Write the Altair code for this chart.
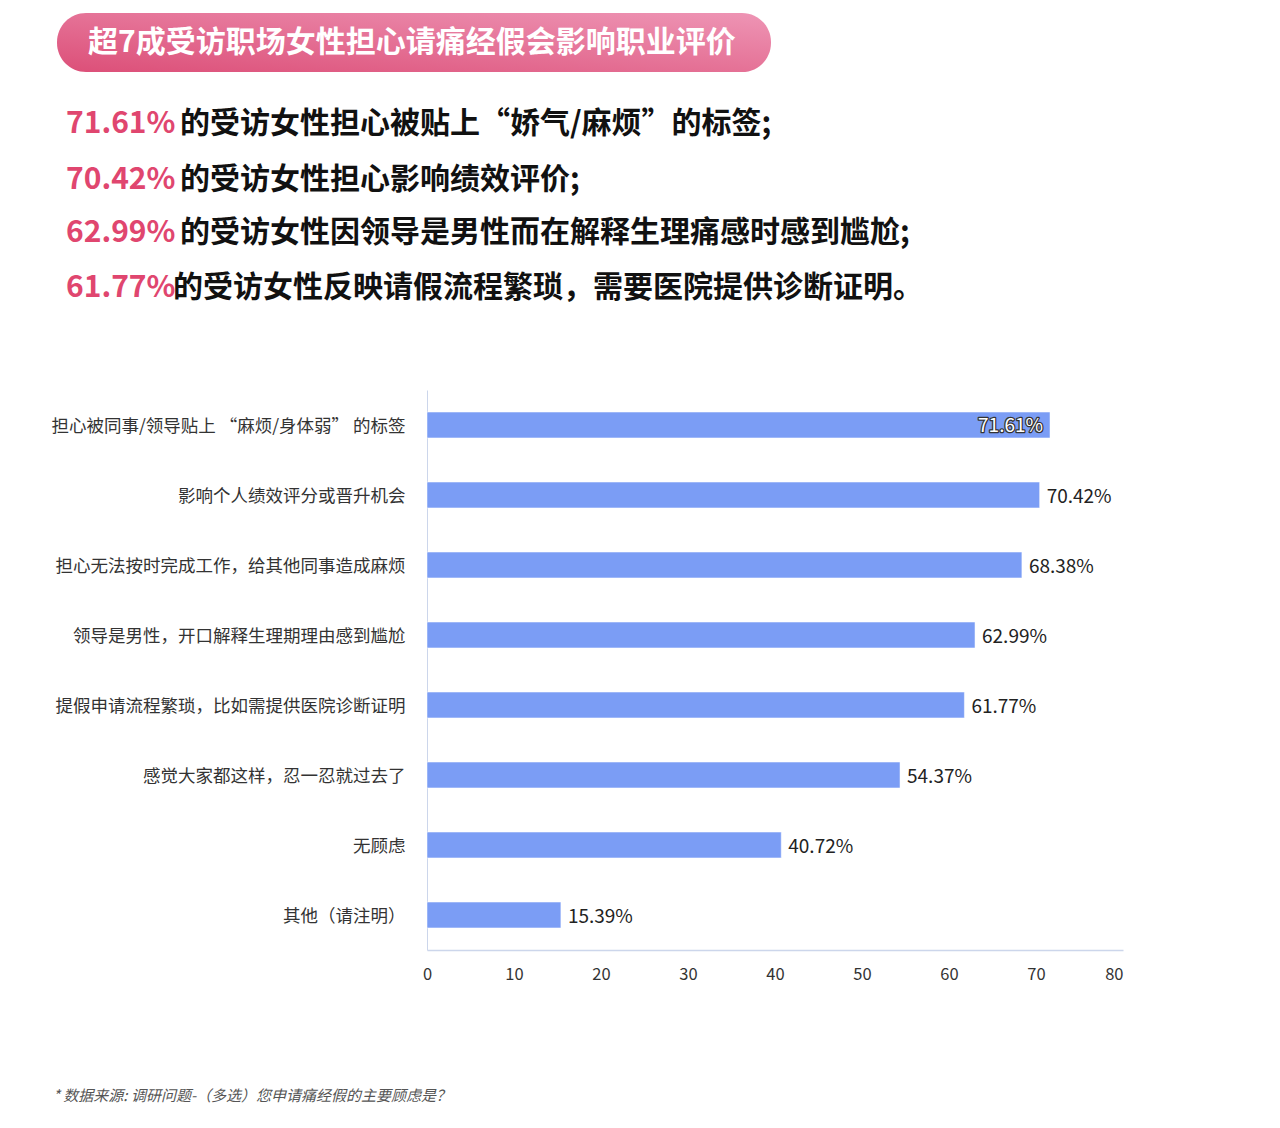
import altair as alt
import pandas as pd

# ---------------- data ----------------
header_text = "超7成受访职场女性担心请痛经假会影响职业评价"
summary_pcts = ["71.61%", "70.42%", "62.99%", "61.77%"]
summary_texts = [
    "的受访女性担心被贴上“娇气/麻烦”的标签;",
    "的受访女性担心影响绩效评价;",
    "的受访女性因领导是男性而在解释生理痛感时感到尴尬;",
    "的受访女性反映请假流程繁琐，需要医院提供诊断证明。",
]
categories = [
    "担心被同事/领导贴上 “麻烦/身体弱” 的标签",
    "影响个人绩效评分或晋升机会",
    "担心无法按时完成工作，给其他同事造成麻烦",
    "领导是男性，开口解释生理期理由感到尴尬",
    "提假申请流程繁琐，比如需提供医院诊断证明",
    "感觉大家都这样，忍一忍就过去了",
    "无顾虑",
    "其他（请注明）",
]
values = [71.61, 70.42, 68.38, 62.99, 61.77, 54.37, 40.72, 15.39]
x_ticks = [0, 10, 20, 30, 40, 50, 60, 70, 80]
footnote = "* 数据来源:  调研问题-（多选）您申请痛经假的主要顾虑是？"

df = pd.DataFrame({"cat": categories, "val": values})
df["label"] = [f"{v:.2f}%" for v in values]
df["inside"] = [i == 0 for i in range(len(values))]

FONT = "Noto Sans CJK SC"
BAR = "#7b9df5"
AXIS = "#ccd6eb"

y_enc = alt.Y(
    "cat:N",
    sort=categories,
    title=None,
    scale=alt.Scale(paddingInner=0.63, paddingOuter=0.315),
    axis=alt.Axis(
        labelFontSize=17.5, labelColor="#333333", labelFont=FONT, labelPadding=22,
        labelOffset=2, ticks=False, domainColor=AXIS, domainWidth=1, labelLimit=420,
    ),
)
x_enc = alt.X(
    "val:Q",
    title=None,
    scale=alt.Scale(domain=[0, 80], nice=False),
    axis=alt.Axis(
        values=x_ticks, grid=False, ticks=False, labelFontSize=16.5,
        labelColor="#333333", labelFont=FONT, labelPadding=16,
        domainColor=AXIS, domainWidth=1.5,
        labelAlign=alt.expr("datum.value == 80 ? 'right' : 'center'"),
    ),
)

base = alt.Chart(df)
bars = base.mark_bar(color=BAR, stroke="#ffffff", strokeWidth=0.5).encode(x=x_enc, y=y_enc)

outside = base.transform_filter("!datum.inside").mark_text(
    align="left", baseline="middle", dx=7, dy=2, fontSize=19, font=FONT, color="#222222"
).encode(x="val:Q", y=alt.Y("cat:N", sort=categories), text="label:N")

inside_stroke = base.transform_filter("datum.inside").mark_text(
    align="right", baseline="middle", dx=-7, dy=1, fontSize=19, font=FONT,
    fill="#ffffff", stroke="#333333", strokeWidth=2.5, strokeJoin="round",
).encode(x="val:Q", y=alt.Y("cat:N", sort=categories), text="label:N")
inside_fill = base.transform_filter("datum.inside").mark_text(
    align="right", baseline="middle", dx=-7, dy=1, fontSize=19, font=FONT, fill="#ffffff",
).encode(x="val:Q", y=alt.Y("cat:N", sort=categories), text="label:N")

# ---------------- annotations (positions relative to plot origin) ----------------
one = pd.DataFrame({"t": [header_text]})
pill = alt.Chart(one).mark_rect(
    cornerRadius=29,
    color=alt.Gradient(
        gradient="linear",
        stops=[alt.GradientStop(color="#dc4f78", offset=0),
               alt.GradientStop(color="#ee95b5", offset=1)],
        x1=0, x2=1, y1=1, y2=0,
    ),
).encode(x=alt.value(-370), x2=alt.value(344), y=alt.value(-377), y2=alt.value(-318))
header = alt.Chart(one).mark_text(
    align="left", baseline="middle", fontSize=30, fontWeight="bold", font=FONT, color="#ffffff"
).encode(x=alt.value(-339), y=alt.value(-347), text="t:N")

layers = [pill, header]
line_y = [-266, -210, -157, -102]
text_x = [-247, -247, -247, -254]
for pct, txt, yy, tx in zip(summary_pcts, summary_texts, line_y, text_x):
    d = pd.DataFrame({"p": [pct], "t": [txt]})
    layers.append(alt.Chart(d).mark_text(
        align="left", baseline="middle", fontSize=30, fontWeight="bold", font=FONT, color="#e0466f"
    ).encode(x=alt.value(-361), y=alt.value(yy), text="p:N"))
    layers.append(alt.Chart(d).mark_text(
        align="left", baseline="middle", fontSize=30, fontWeight="bold", font=FONT, color="#111111"
    ).encode(x=alt.value(tx), y=alt.value(yy), text="t:N"))

foot = alt.Chart(pd.DataFrame({"t": [footnote]})).mark_text(
    align="left", baseline="middle", fontSize=15, fontStyle="italic", font=FONT, color="#555555"
).encode(x=alt.value(-374), y=alt.value(706), text="t:N")

chart = alt.layer(bars, outside, inside_stroke, inside_fill, *layers, foot).properties(
    width=696, height=560,
    padding={"left": 419, "top": 382, "right": 140, "bottom": 175},
    autosize=alt.AutoSizeParams(type="none"),
    background="#ffffff",
).configure_view(stroke=None)

chart.save("out.html", embed_options={"renderer": "svg", "actions": False})
